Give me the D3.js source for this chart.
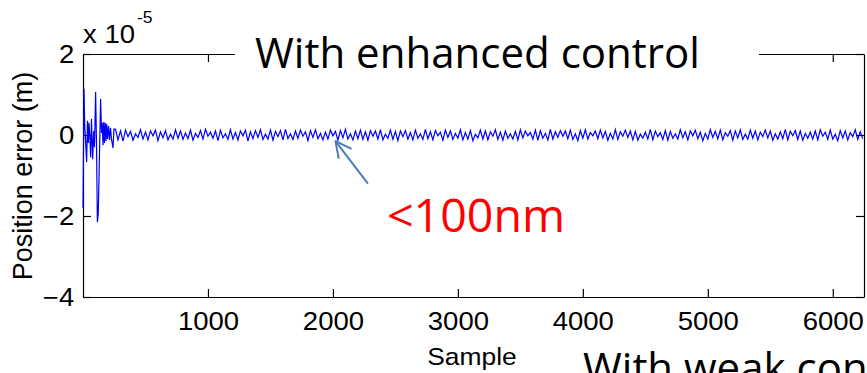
<!DOCTYPE html>
<html>
<head>
<meta charset="utf-8">
<script src="https://cdn.jsdelivr.net/npm/d3@7"></script>
<style>
  body { margin: 0; background: #fff; }
  svg { display: block; }
</style>
</head>
<body>
<svg id="chart" width="867" height="373"></svg>
<script>
// axis ticks
const xTicks = [1000, 2000, 3000, 4000, 5000, 6000];
const yTicks = [-4, -2, 0, 2];          // units of 1e-5 m

// start-up transient (sample index, position error in 1e-5 m)
const transientSamples = [0, 8, 14, 20, 29, 36, 42, 48, 54, 61, 68, 77, 86, 92, 101, 108, 115, 122, 141, 148,
  154, 160, 166, 172, 178, 184, 190, 196, 204, 212, 220, 228, 240, 248];
const transientValues = [-1.8, 1.15, 0.2, -0.1, -0.67, 0.35, -0.2, 0.3, 0.0, -0.55, 0.4, -0.6, 0.1, -0.3, 1.06, -0.2, -2.15, -1.95, 0.89, 0.05,
  0.3, -0.25, 0.32, -0.2, 0.3, -0.15, 0.28, -0.1, 0.22, -0.12, 0.18, -0.1, -0.32, 0.15];

// steady state, read every 20 samples from sample 260
const steadyStart = 260;
const steadyStep = 20;
const steadyValues = [
  0.14,-0.12,0.1,-0.15,0.12,-0.04,0.09,-0.13,0.03,-0.06,0.13,-0.1,0.07,-0.12,0.1,-0.02,0.12,-0.14,0.08,-0.07,
  0.11,-0.12,0.02,-0.1,0.13,-0.08,0.1,-0.11,0.05,-0.09,0.12,-0.13,0.04,-0.06,0.11,-0.1,0.14,-0.03,0.07,-0.08,
  0.1,-0.14,0.12,-0.07,0.03,-0.11,0.13,-0.1,0.06,-0.12,0.1,-0.02,0.12,-0.15,0.08,-0.09,0.11,-0.06,0.13,-0.11,
  0.02,-0.1,0.12,-0.13,0.09,-0.04,0.11,-0.12,0.14,-0.09,0.03,-0.11,0.1,-0.08,0.12,-0.03,0.08,-0.14,0.11,-0.06,
  0.13,-0.09,0.04,-0.12,0.07,-0.1,0.12,-0.02,0.09,-0.13,0.11,-0.07,0.14,-0.1,0.03,-0.12,0.1,-0.09,0.12,-0.11,
  0.08,-0.13,0.11,-0.03,0.1,-0.1,0.13,-0.12,0.02,-0.08,0.12,-0.11,0.09,-0.14,0.1,-0.04,0.11,-0.1,0.06,-0.12,
  0.12,-0.08,0.03,-0.11,0.14,-0.09,0.08,-0.12,0.11,-0.02,0.07,-0.13,0.12,-0.06,0.1,-0.11,0.04,-0.08,0.13,-0.12,
  0.06,-0.1,0.11,-0.14,0.02,-0.07,0.12,-0.1,0.1,-0.12,0.08,-0.03,0.13,-0.11,0.07,-0.13,0.1,-0.08,0.03,-0.1,
  0.09,-0.12,0.13,-0.07,0.1,-0.02,0.06,-0.1,0.12,-0.13,0.11,-0.08,0.04,-0.12,0.14,-0.1,0.08,-0.06,0.11,-0.03,
  0.1,-0.09,0.12,-0.11,0.03,-0.14,0.11,-0.08,0.13,-0.1,0.06,-0.02,0.1,-0.09,0.12,-0.07,0.09,-0.13,0.04,-0.1,
  0.13,-0.11,0.08,-0.03,0.12,-0.06,0.1,-0.12,0.09,-0.13,0.02,-0.08,0.07,-0.1,0.14,-0.12,0.1,-0.04,0.06,-0.11,
  0.11,-0.13,0.09,-0.08,0.03,-0.1,0.13,-0.07,0.08,-0.12,0.1,-0.02,0.12,-0.09,0.07,-0.14,0.04,-0.1,0.13,-0.06,
  0.09,-0.1,0.12,-0.12,0.06,-0.03,0.11,-0.13,0.1,-0.07,0.13,-0.11,0.02,-0.1,0.12,-0.08,0.1,-0.12,0.07,-0.04,
  0.12,-0.07,0.1,-0.13,0.03,-0.1,0.08,-0.09,0.14,-0.12,0.09,-0.02,0.11,-0.11,0.1,-0.13,0.04,-0.08,0.07,-0.1,
  0.1,-0.12,0.13,-0.03,0.07,-0.11,0.12,-0.1,0.02,-0.14,0.11,-0.07,0.1,-0.12,0.06,-0.04,0.13,-0.11,0.08,-0.09
];

const series = transientSamples.map((s, i) => [s, transientValues[i]])
  .concat(steadyValues.map((v, i) => [steadyStart + i * steadyStep, v]));

const svg = d3.select('#chart');
const FONT = 'Arial, "Liberation Sans", sans-serif';
const SX = 1.1;   // the original image is a bit wider than tall

const x = d3.scaleLinear().domain([0, 6250]).range([83, 864]);
const y = d3.scaleLinear().domain([-4, 2]).range([297, 54]);

const styleAxis = g => {
  g.select('.domain').attr('stroke', '#000').attr('stroke-width', 1.2);
  g.selectAll('.tick line').attr('stroke', '#000').attr('stroke-width', 1.2);
  g.selectAll('.tick text')
    .attr('fill', '#000')
    .attr('font-size', 25)
    .attr('font-family', FONT)
    .attr('transform', `scale(${ SX },1)`);
};

const axes = svg.append('g').attr('class', 'axes');
axes.append('g')
  .attr('transform', `translate(0,${ y(-4) })`)
  .call(d3.axisBottom(x).tickValues(xTicks).tickSize(-8).tickSizeOuter(0).tickPadding(15).tickFormat(d3.format('d')))
  .call(styleAxis);
axes.append('g')
  .attr('transform', `translate(${ x(0) },0)`)
  .call(d3.axisLeft(y).tickValues(yTicks).tickSize(-8).tickSizeOuter(0).tickPadding(8).tickFormat(d3.format('d')))
  .call(styleAxis);
axes.append('g')
  .attr('transform', `translate(0,${ y(2) })`)
  .call(d3.axisTop(x).tickValues(xTicks).tickSize(-8).tickSizeOuter(0).tickFormat(''))
  .call(styleAxis);
axes.append('g')
  .attr('transform', `translate(${ x(6250) },0)`)
  .call(d3.axisRight(y).tickValues(yTicks).tickSize(-8).tickSizeOuter(0).tickFormat(''))
  .call(styleAxis);

// the trace
const line = d3.line().x(d => x(d[0])).y(d => y(d[1]));
svg.append('path')
  .datum(series)
  .attr('fill', 'none')
  .attr('stroke', '#0000ff')
  .attr('stroke-width', 1.2)
  .attr('d', line);

// exponent label
const expo = svg.append('g').attr('transform', `translate(83,43) scale(${ SX },1)`);
expo.append('text').attr('font-family', FONT).attr('font-size', 25).text('x 10');
expo.append('text').attr('x', 49).attr('y', -20).attr('font-family', FONT).attr('font-size', 16).text('-5');

// axis labels
svg.append('g').attr('transform', `translate(472,365) scale(${ SX },1)`)
  .append('text').attr('text-anchor', 'middle').attr('font-family', FONT).attr('font-size', 24).text('Sample');
svg.append('g').attr('transform', 'translate(32,176) rotate(-90)')
  .append('text').attr('text-anchor', 'middle').attr('font-family', FONT).attr('font-size', 27).text('Position error (m)');

// slide annotations
svg.append('rect').attr('x', 235).attr('y', 18).attr('width', 524).attr('height', 62).attr('fill', '#fff');
const TITLE_FONT = '"Open Sans", "Noto Sans", sans-serif';
const title = svg.append('text')
  .attr('x', 255).attr('y', 68)
  .attr('font-family', TITLE_FONT).attr('font-size', 42).attr('fill', '#000')
  .text('With enhanced control');
const titleScale = 445 / title.node().getComputedTextLength();
title.attr('transform', `translate(255,0) scale(${ titleScale },1) translate(-255,0)`);

svg.append('text')
  .attr('x', 583).attr('y', 383)
  .attr('font-family', TITLE_FONT).attr('font-size', 42).attr('fill', '#000')
  .attr('transform', `translate(583,0) scale(${ titleScale },1) translate(-583,0)`)
  .text('With weak control');

svg.append('text')
  .attr('x', 387).attr('y', 232)
  .attr('font-family', TITLE_FONT).attr('font-size', 46).attr('fill', '#ff0000')
  .attr('textLength', 178).attr('lengthAdjust', 'spacingAndGlyphs')
  .text('<100nm');

// arrow pointing at the steady-state ripple
const arrowTail = [2280, -1.2];
const arrowTip = [2020, -0.15];
svg.append('defs').append('marker')
  .attr('id', 'head').attr('viewBox', '0 0 20 20').attr('refX', 19).attr('refY', 10)
  .attr('markerWidth', 20).attr('markerHeight', 20).attr('markerUnits', 'userSpaceOnUse')
  .attr('orient', 'auto')
  .append('path').attr('d', 'M3,2 L19,10 L3,18').attr('fill', 'none').attr('stroke', '#4a7ebb').attr('stroke-width', 2);
svg.append('line')
  .attr('x1', x(arrowTail[0])).attr('y1', y(arrowTail[1]))
  .attr('x2', x(arrowTip[0])).attr('y2', y(arrowTip[1]))
  .attr('stroke', '#4a7ebb').attr('stroke-width', 2)
  .attr('marker-end', 'url(#head)');
</script>
</body>
</html>
